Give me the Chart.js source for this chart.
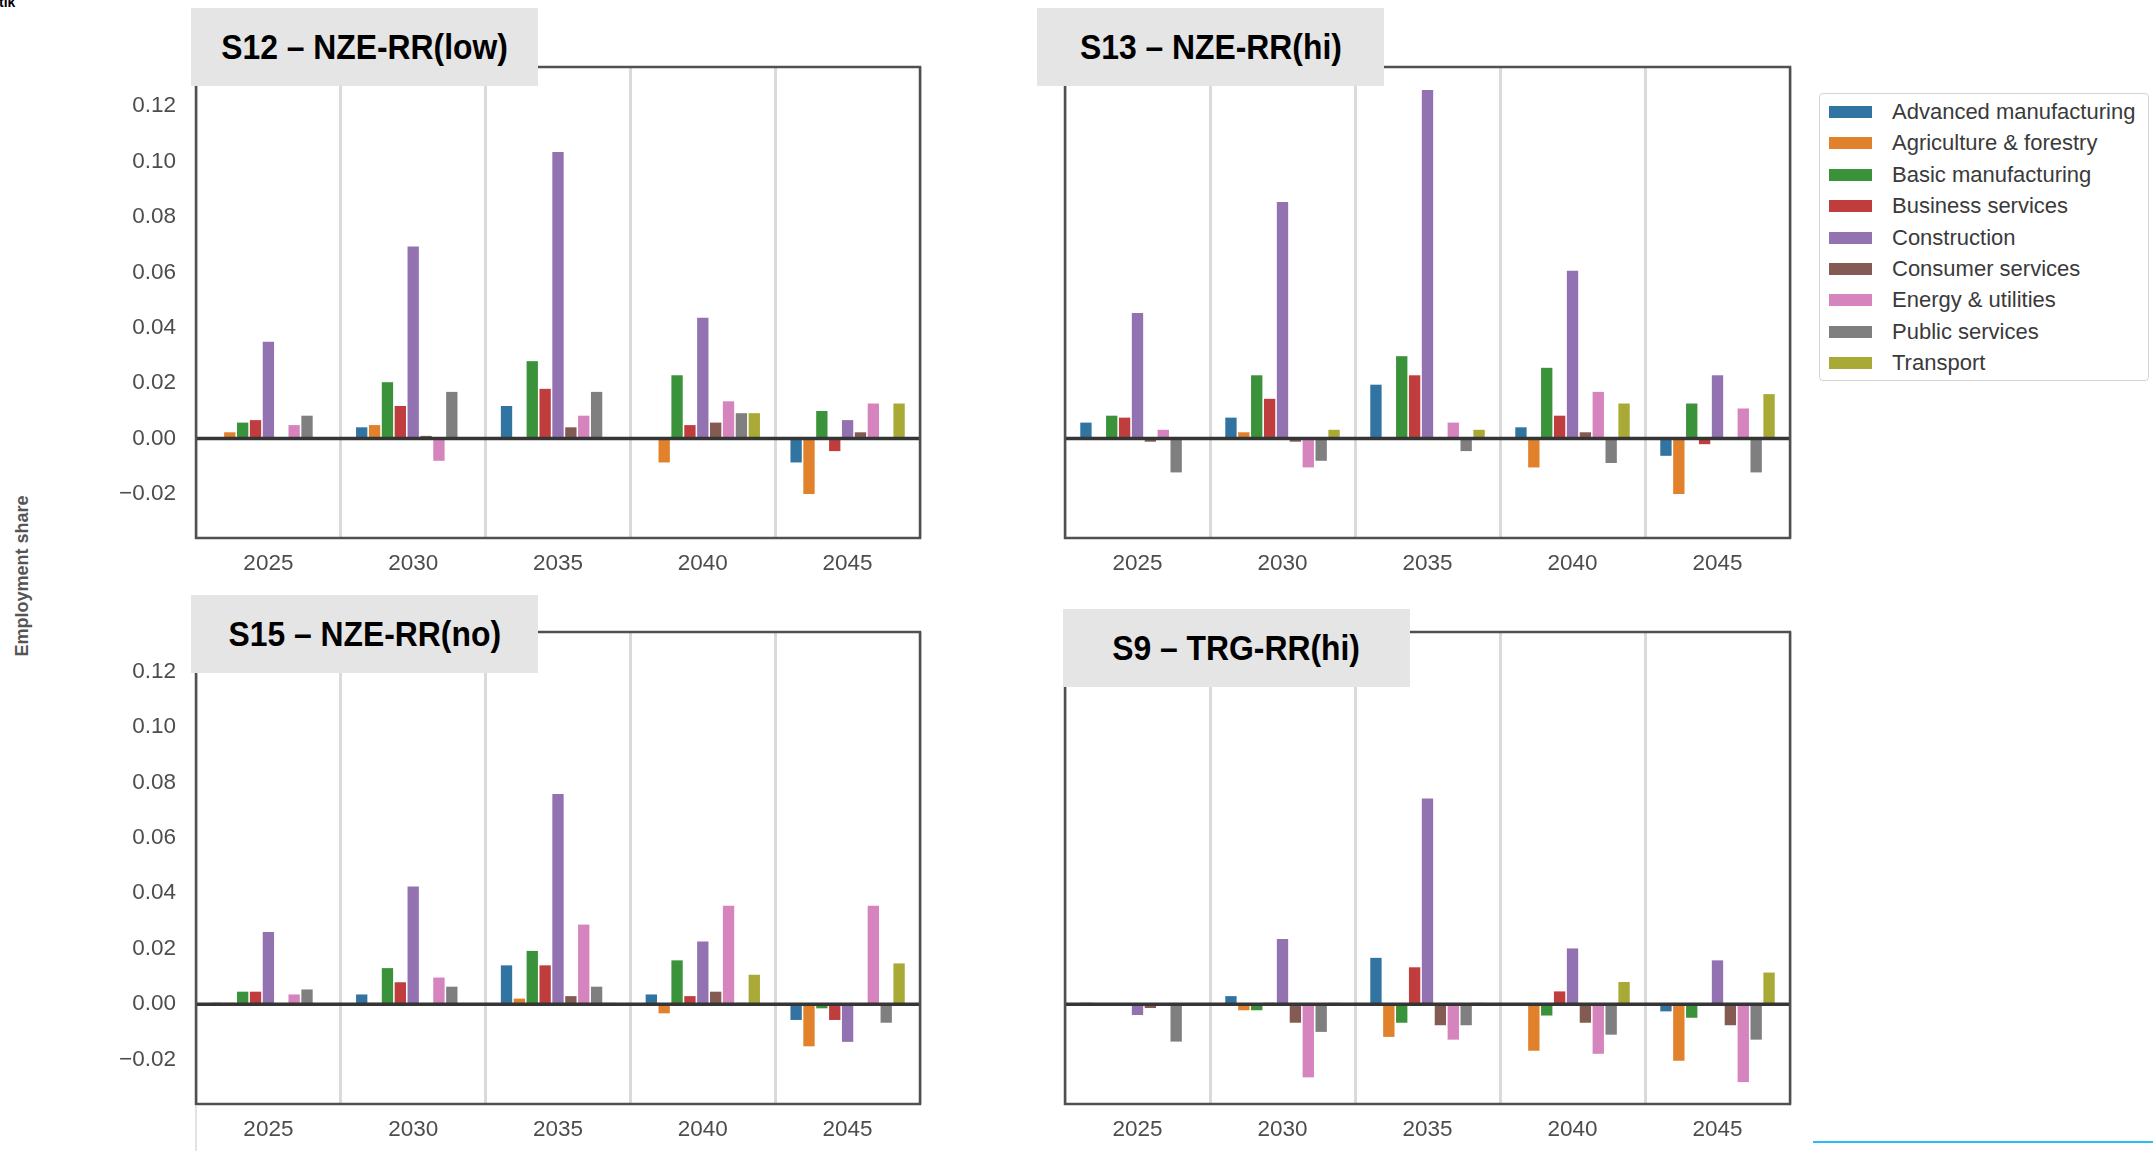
<!DOCTYPE html>
<html>
<head>
<meta charset="utf-8">
<script src="https://cdn.jsdelivr.net/npm/chart.js@4.4.0/dist/chart.umd.min.js"></script>
<style>
  html, body { margin: 0; padding: 0; background: #fff; }
  body { width: 2153px; height: 1151px; position: relative; overflow: hidden;
         font-family: 'Liberation Sans', Arial, sans-serif; }
  canvas { position: absolute; }
  .ptitle { position: absolute; background: #e5e5e5; display: flex; align-items: center;
            justify-content: center; z-index: 2; }
  .ptitle span { font-weight: bold; font-size: 35px; color: #000; white-space: nowrap;
                 transform: scaleX(0.91); display: inline-block; }
  #ylabel { position: absolute; left: 22px; top: 576px; transform: translate(-50%, -50%) rotate(-90deg);
            font-weight: bold; font-size: 18px; color: #555; white-space: nowrap; }
  #legend { position: absolute; left: 1819px; top: 93px; width: 330px; height: 288px;
            border: 1px solid #d4d4d4; border-radius: 4px; background: #fff; box-sizing: border-box; }
  .lrow { position: absolute; left: 9px; height: 24px; display: flex; align-items: center; }
  .lsw { width: 43px; height: 12px; margin-right: 20px; }
  .ltx { font-size: 22px; color: #3a3a3a; white-space: nowrap; }
  #corner { position: absolute; left: -1px; top: -6px; font-size: 14px; font-weight: bold; color: #000; line-height: 16px; }
  #stub { position: absolute; left: 195px; top: 1106px; width: 2px; height: 45px; background: #e3e3e3; }
  #rule { position: absolute; left: 1813px; top: 1141px; width: 340px; height: 2px; background: #2bbcf5; }
</style>
</head>
<body>
<div id="corner">tik</div>
<div id="ylabel">Employment share</div>
<div id="legend"></div>
<div id="stub"></div>
<div id="rule"></div>

<script>
// Categories and series
const years = ['2025', '2030', '2035', '2040', '2045'];
const sectors = [
  'Advanced manufacturing', 'Agriculture & forestry', 'Basic manufacturing',
  'Business services', 'Construction', 'Consumer services',
  'Energy & utilities', 'Public services', 'Transport'
];
const sectorColors = ['#3274a1', '#e1812c', '#3a923a', '#c03d3e', '#9372b2',
                      '#845b53', '#d684bd', '#7f7f7f', '#a9aa35'];
const yTicks = [-0.02, 0.00, 0.02, 0.04, 0.06, 0.08, 0.10, 0.12];

// Change in employment share per sector, one row per sector (2025..2045)
const s12 = [
  [0.0005, 0.0040, 0.0117, 0.0000, -0.0087],
  [0.0022, 0.0048, 0.0000, -0.0087, -0.0201],
  [0.0057, 0.0203, 0.0279, 0.0228, 0.0099],
  [0.0066, 0.0117, 0.0179, 0.0048, -0.0046],
  [0.0349, 0.0693, 0.1035, 0.0436, 0.0066],
  [0.0000, 0.0009, 0.0040, 0.0057, 0.0022],
  [0.0048, -0.0081, 0.0082, 0.0134, 0.0126],
  [0.0082, 0.0168, 0.0168, 0.0091, 0.0000],
  [0.0000, 0.0000, 0.0000, 0.0091, 0.0126]
];
const s13 = [
  [0.0057, 0.0075, 0.0194, 0.0040, -0.0063],
  [0.0005, 0.0022, 0.0000, -0.0105, -0.0201],
  [0.0082, 0.0228, 0.0297, 0.0255, 0.0126],
  [0.0075, 0.0143, 0.0228, 0.0082, -0.0021],
  [0.0453, 0.0854, 0.1259, 0.0606, 0.0228],
  [-0.0012, -0.0012, 0.0000, 0.0022, 0.0000],
  [0.0031, -0.0105, 0.0057, 0.0168, 0.0108],
  [-0.0123, -0.0081, -0.0046, -0.0089, -0.0123],
  [0.0005, 0.0031, 0.0031, 0.0126, 0.0160]
];
const s15 = [
  [0.0005, 0.0035, 0.0140, 0.0035, -0.0057],
  [0.0005, 0.0005, 0.0020, -0.0033, -0.0152],
  [0.0045, 0.0130, 0.0192, 0.0158, -0.0015],
  [0.0045, 0.0079, 0.0140, 0.0029, -0.0057],
  [0.0260, 0.0424, 0.0758, 0.0226, -0.0136],
  [0.0000, 0.0000, 0.0029, 0.0045, 0.0000],
  [0.0035, 0.0096, 0.0287, 0.0355, 0.0355],
  [0.0053, 0.0063, 0.0063, 0.0005, -0.0067],
  [0.0000, 0.0000, 0.0005, 0.0106, 0.0147]
];
const s9 = [
  [0.0005, 0.0029, 0.0167, 0.0000, -0.0026],
  [0.0000, -0.0022, -0.0118, -0.0168, -0.0204],
  [0.0000, -0.0022, -0.0067, -0.0041, -0.0049],
  [0.0000, 0.0005, 0.0133, 0.0046, 0.0000],
  [-0.0039, 0.0235, 0.0742, 0.0201, 0.0158],
  [-0.0014, -0.0067, -0.0076, -0.0067, -0.0076],
  [0.0000, -0.0264, -0.0128, -0.0179, -0.0281],
  [-0.0135, -0.0100, -0.0076, -0.0110, -0.0128],
  [0.0000, 0.0005, 0.0005, 0.0080, 0.0114]
];

const panels = [
  { title: 'S12 \u2013 NZE-RR(low)', values: s12, showY: true,
    plot: { l: 196, t: 67, r: 920, b: 538 }, box: { l: 191, t: 8, r: 538, b: 86 } },
  { title: 'S13 \u2013 NZE-RR(hi)', values: s13, showY: false,
    plot: { l: 1065, t: 67, r: 1790, b: 538 }, box: { l: 1037, t: 8, r: 1384, b: 86 } },
  { title: 'S15 \u2013 NZE-RR(no)', values: s15, showY: true,
    plot: { l: 196, t: 632, r: 920, b: 1104 }, box: { l: 191, t: 595, r: 538, b: 673 } },
  { title: 'S9 \u2013 TRG-RR(hi)', values: s9, showY: false,
    plot: { l: 1065, t: 632, r: 1790, b: 1104 }, box: { l: 1063, t: 609, r: 1410, b: 687 } }
];

const FONT = "'Liberation Sans', Arial, sans-serif";
const TICK_COLOR = '#4d4d4d';
const PAD = 10;      // room around the plot frame
const XH = 45;       // height of the x axis band

// Frame around the plot area plus the heavy zero line
const framePlugin = {
  id: 'frame',
  afterDatasetsDraw(chart) {
    const { ctx, chartArea: a } = chart;
    const y0 = chart.scales.y.getPixelForValue(0);
    ctx.save();
    ctx.strokeStyle = '#353535';
    ctx.lineWidth = 3.5;
    ctx.beginPath();
    ctx.moveTo(a.left, y0);
    ctx.lineTo(a.right, y0);
    ctx.stroke();
    ctx.strokeStyle = '#505050';
    ctx.lineWidth = 2.5;
    ctx.strokeRect(a.left, a.top, a.right - a.left, a.bottom - a.top);
    ctx.restore();
  }
};

function fmtTick(v) {
  if (Math.abs(v) < 1e-9) return '0.00';
  return (v < 0 ? '\u2212' : '') + Math.abs(v).toFixed(2);
}

function noPad(s) {
  s.paddingTop = 0;
  s.paddingBottom = 0;
  s.paddingLeft = 0;
  s.paddingRight = 0;
}

panels.forEach((p) => {
  const YW = p.showY ? 120 : PAD;
  const canvas = document.createElement('canvas');
  const w = (p.plot.r - p.plot.l) + YW + PAD;
  const h = (p.plot.b - p.plot.t) + PAD + XH;
  canvas.width = w;
  canvas.height = h;
  canvas.style.left = (p.plot.l - YW) + 'px';
  canvas.style.top = (p.plot.t - PAD) + 'px';
  canvas.style.width = w + 'px';
  canvas.style.height = h + 'px';
  document.body.appendChild(canvas);

  new Chart(canvas, {
    type: 'bar',
    data: {
      labels: years,
      datasets: sectors.map((name, i) => ({
        label: name,
        data: p.values[i],
        backgroundColor: sectorColors[i],
        borderWidth: 0,
        categoryPercentage: 0.8,
        barPercentage: 0.88
      }))
    },
    options: {
      responsive: false,
      animation: false,
      devicePixelRatio: 1,
      layout: { padding: { top: PAD, right: PAD, left: 0, bottom: 0 } },
      plugins: { legend: { display: false }, tooltip: { enabled: false } },
      scales: {
        x: {
          offset: true,
          grid: { offset: true, color: '#dadada', lineWidth: 3, drawTicks: false },
          border: { display: false },
          ticks: { font: { family: FONT, size: 22.5 }, color: TICK_COLOR, padding: 12, maxRotation: 0 },
          afterFit(s) { s.height = XH; noPad(s); }
        },
        y: {
          min: -0.036,
          max: 0.1342,
          grid: { display: false, drawTicks: false },
          border: { display: false },
          afterBuildTicks(s) { s.ticks = yTicks.map(v => ({ value: v })); },
          ticks: { display: p.showY, callback: fmtTick, font: { family: FONT, size: 22.5 },
                   color: TICK_COLOR, padding: 20 },
          afterFit(s) { s.width = YW; noPad(s); }
        }
      }
    },
    plugins: [framePlugin]
  });

  const box = document.createElement('div');
  box.className = 'ptitle';
  box.style.left = p.box.l + 'px';
  box.style.top = p.box.t + 'px';
  box.style.width = (p.box.r - p.box.l) + 'px';
  box.style.height = (p.box.b - p.box.t) + 'px';
  const span = document.createElement('span');
  span.textContent = p.title;
  box.appendChild(span);
  document.body.appendChild(box);
});

// Legend built from the sector list
const legend = document.getElementById('legend');
sectors.forEach((name, i) => {
  const row = document.createElement('div');
  row.className = 'lrow';
  row.style.top = (6 + i * 31.4) + 'px';
  const sw = document.createElement('div');
  sw.className = 'lsw';
  sw.style.background = sectorColors[i];
  const tx = document.createElement('div');
  tx.className = 'ltx';
  tx.textContent = name;
  row.appendChild(sw);
  row.appendChild(tx);
  legend.appendChild(row);
});
</script>
</body>
</html>
